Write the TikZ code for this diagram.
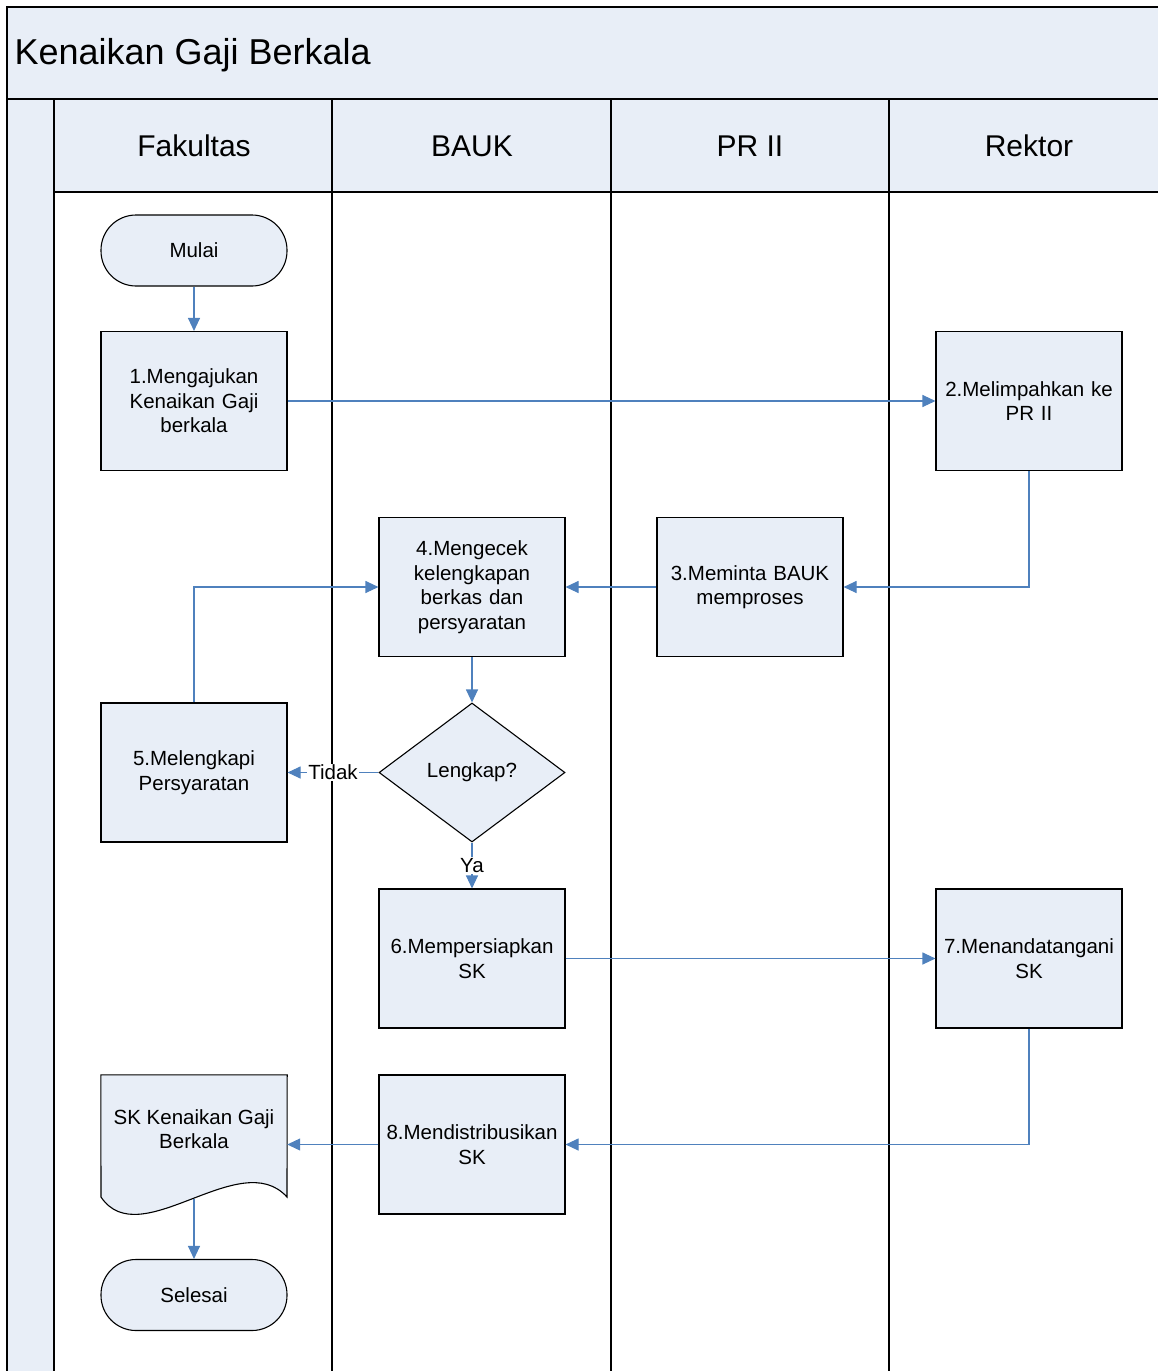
\documentclass[tikz,border=0pt]{standalone}
\usepackage{fontspec}
\setmainfont{Liberation Sans}
\usetikzlibrary{shapes.geometric,arrows.meta}
\definecolor{lanefill}{RGB}{232,238,247}
\definecolor{flow}{RGB}{79,129,189}

\begin{document}
\begin{tikzpicture}[x=1pt,y=-1pt,
  pool/.style={draw=black,line width=1.4pt},
  body/.style={font=\fontsize{20.5}{24.5}\selectfont},
  stepbox/.style={body,draw=black,line width=1.1pt,fill=lanefill,minimum width=186pt,
    minimum height=139pt,inner sep=2pt,align=center,text width=182pt},
  terminal/.style={body,draw=black,line width=1.1pt,fill=lanefill,rectangle,
    rounded corners=35pt,minimum width=186pt,minimum height=71pt,inner sep=0pt},
  decision/.style={body,draw=black,line width=1.1pt,fill=lanefill,diamond,
    minimum width=186pt,minimum height=139pt,inner sep=0pt},
  lanehead/.style={font=\fontsize{30}{36}\selectfont},
  flowline/.style={draw=flow,line width=1.1pt,-{Triangle[length=13pt,width=12pt]}},
  lbl/.style={body,fill=white,inner sep=1pt}]

\useasboundingbox (0,0) rectangle (1158,1371);

% pool background and lane separators
\fill[lanefill] (7,7) rectangle (1158,99);
\fill[lanefill] (7,99) rectangle (54,1371);
\fill[lanefill] (54,99) rectangle (1158,192);
\draw[pool] (1158,7) -- (7,7) -- (7,1371);
\draw[pool] (7,99) -- (1158,99);
\draw[pool] (54,192) -- (1158,192);
\foreach \x in {54,332,611,889} \draw[pool] (\x,99) -- (\x,1371);

\node[anchor=west,font=\fontsize{36}{40}\selectfont] (title) at (11,55) {Kenaikan Gaji Berkala};
\node[lanehead] (hfak) at (194,146) {Fakultas};
\node[lanehead] (hbauk) at (472,146) {BAUK};
\node[lanehead] (hpr) at (750,146) {PR II};
\node[lanehead] (hrek) at (1029,146) {Rektor};

% process steps
\node[terminal] (mulai) at (194,250.5) {Mulai};
\node[stepbox] (s1) at (194,401) {1.Mengajukan\\Kenaikan Gaji\\berkala};
\node[stepbox] (s2) at (1029,401) {2.Melimpahkan ke\\PR II};
\node[stepbox] (s3) at (750,587) {3.Meminta BAUK\\memproses};
\node[stepbox] (s4) at (472,587) {4.Mengecek\\kelengkapan\\berkas dan\\persyaratan};
\node[decision] (cek) at (472,772.5) {Lengkap?};
\node[stepbox] (s5) at (194,772.5) {5.Melengkapi\\Persyaratan};
\node[stepbox] (s6) at (472,958.5) {6.Mempersiapkan\\SK};
\node[stepbox] (s7) at (1029,958.5) {7.Menandatangani\\SK};
\node[stepbox] (s8) at (472,1144.5) {8.Mendistribusikan\\SK};

% document output
\node[minimum width=186pt,minimum height=139pt,inner sep=0pt] (doc) at (194,1144.5) {};
\draw[draw=black,line width=1.1pt,fill=lanefill] (doc.north west) -- (doc.north east) -- (287,1197)
  .. controls (240,1145) and (140,1255) .. (101,1197) -- cycle;
\node[body,align=center] (doctext) at (194,1129) {SK Kenaikan Gaji\\Berkala};
\coordinate (docbot) at (194,1199);

\node[terminal] (selesai) at (194,1295) {Selesai};

% connectors
\draw[flowline] (mulai) -- (s1);
\draw[flowline] (s1) -- (s2);
\draw[flowline] (s2.south) |- (s3.east);
\draw[flowline] (s3) -- (s4);
\draw[flowline] (s4) -- (cek);
\draw[flowline] (cek) -- node[lbl] {Tidak} (s5);
\draw[flowline] (s5.north) |- (s4.west);
\draw[flowline] (cek) -- node[lbl] {Ya} (s6);
\draw[flowline] (s6) -- (s7);
\draw[flowline] (s7.south) |- (s8.east);
\draw[flowline] (s8) -- (doc);
\draw[flowline] (docbot) -- (selesai);
\end{tikzpicture}
\end{document}
